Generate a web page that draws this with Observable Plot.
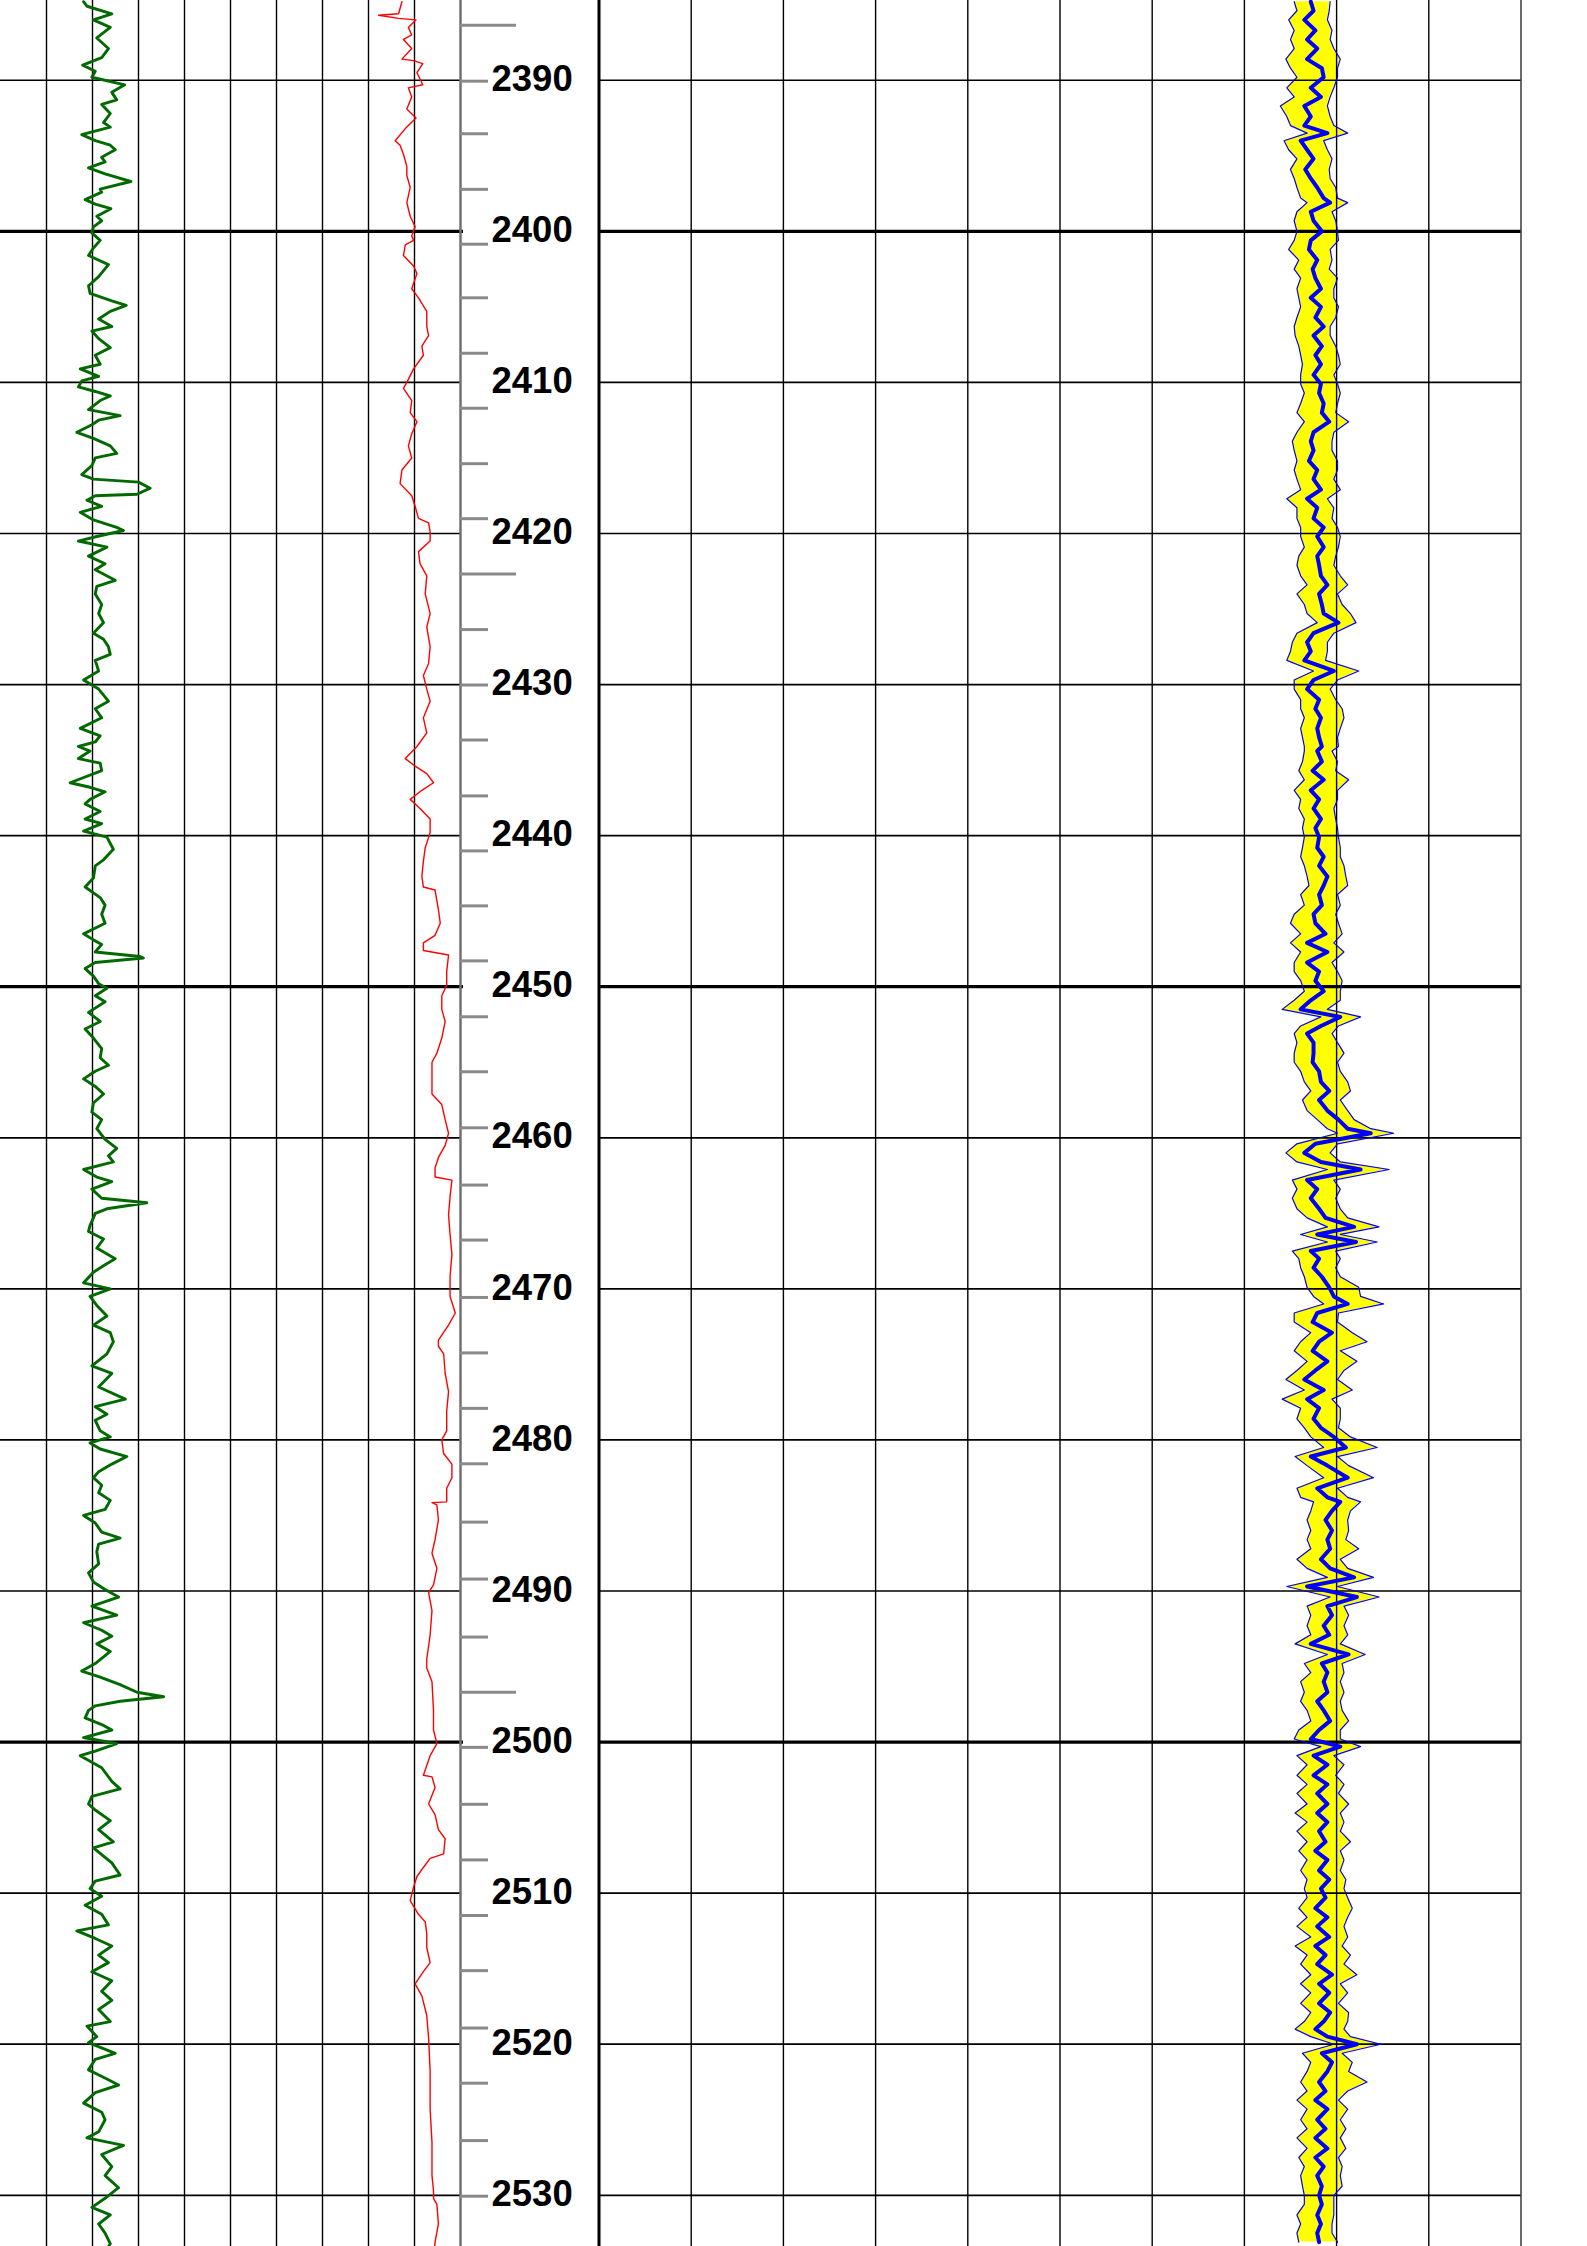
<!DOCTYPE html>
<html><head><meta charset="utf-8">
<script src="https://cdn.jsdelivr.net/npm/d3@7"></script>
<script src="https://cdn.jsdelivr.net/npm/@observablehq/plot@0.6"></script>
<style>
html,body{margin:0;padding:0;background:#fff;}
#chart{position:relative;width:1587px;height:2246px;overflow:hidden;background:#fff;}
#chart > div{position:absolute;top:0;}
#chart svg{max-width:none;}
</style></head><body>
<div id="chart"><div id="t1" style="left:0;width:464px"></div><div id="t2" style="left:458px;width:140px"></div><div id="t3" style="left:594px;width:932px"></div></div>
<script>
// ---- data ----
const depthTop = 2384.72, depthBottom = 2533.39;
const depthLabels = [2390,2400,2410,2420,2430,2440,2450,2460,2470,2480,2490,2500,2510,2520,2530];
const thickDepths = [2400,2450,2500];
const leftGrid = [15,30,45,60,75,90,105,120,135];
const rightGrid = [10,20,30,40,50,60,70,80,90];
const minorTicks = [2390.06,2393.54,2397.22,2400.85,2404.40,2408.07,2411.71,2415.38,2419.02,2426.36,2430.03,2433.67,2437.37,2441.01,2444.65,2448.29,2451.99,2455.63,2459.34,2463.13,2466.77,2470.57,2474.24,2477.91,2481.58,2485.44,2489.21,2493.05,2500.35,2504.12,2507.80,2511.48,2515.13,2518.93,2522.58,2526.38,2530.06];
const majorTicks = [2386.36,2422.69,2496.70];

// green curve [depth, value]
const green = [[2384.8,27.1],[2385.1,28.2],[2385.6,36.3],[2386.0,30.3],[2386.5,35.8],[2387.2,31.4],[2387.9,35.2],[2388.5,33.0],[2389.0,26.8],[2389.4,30.9],[2389.8,29.8],[2390.3,40.5],[2390.8,36.3],[2391.3,37.9],[2391.6,33.0],[2392.2,35.8],[2392.8,33.6],[2393.1,35.8],[2393.6,26.5],[2394.0,30.9],[2394.3,35.8],[2394.6,37.4],[2395.1,33.0],[2395.4,34.1],[2395.8,28.7],[2396.2,34.1],[2396.7,42.5],[2397.2,32.5],[2397.4,33.0],[2397.9,27.6],[2398.2,30.9],[2398.5,36.0],[2399.0,31.4],[2399.3,33.0],[2399.7,30.3],[2400.1,29.8],[2400.6,32.5],[2401.1,30.3],[2401.6,28.7],[2402.2,35.2],[2403.0,32.0],[2403.6,28.7],[2404.1,29.2],[2404.6,36.3],[2404.9,41.0],[2405.3,35.8],[2405.8,32.0],[2406.3,36.3],[2406.6,29.8],[2407.1,32.0],[2407.7,35.8],[2408.2,30.9],[2408.8,32.5],[2409.1,26.0],[2409.6,32.0],[2409.9,26.5],[2410.3,25.4],[2410.6,30.9],[2410.9,35.8],[2411.2,32.5],[2411.8,28.7],[2412.2,39.0],[2412.5,32.0],[2412.8,29.8],[2413.3,24.9],[2413.7,30.3],[2414.2,35.8],[2414.7,37.9],[2415.0,30.9],[2415.5,29.8],[2416.1,26.5],[2416.4,30.3],[2416.6,45.0],[2417.0,48.8],[2417.4,44.5],[2417.5,30.9],[2417.8,28.2],[2418.2,33.0],[2418.6,26.0],[2419.1,30.3],[2419.6,37.9],[2419.8,40.1],[2420.2,31.4],[2420.5,25.4],[2420.9,34.7],[2421.5,28.7],[2422.0,34.1],[2422.4,30.9],[2423.1,37.4],[2423.5,31.4],[2424.0,30.9],[2424.7,33.0],[2425.3,32.0],[2425.9,33.6],[2426.6,30.3],[2427.0,33.6],[2427.5,35.2],[2428.0,35.8],[2428.4,30.9],[2429.1,32.0],[2429.7,27.1],[2430.3,32.0],[2431.1,35.2],[2431.6,30.9],[2432.2,33.0],[2432.9,26.0],[2433.4,32.5],[2433.8,30.9],[2434.1,25.4],
[2434.4,29.2],[2434.9,25.4],[2435.2,32.5],[2435.7,33.0],[2436.5,22.7],[2436.8,29.2],[2437.1,34.1],[2437.6,29.2],[2437.9,27.6],[2438.4,32.5],[2438.9,27.6],[2439.2,33.0],[2439.7,27.1],[2440.1,34.7],[2440.9,36.8],[2441.6,33.6],[2442.0,30.9],[2442.8,30.3],[2443.4,27.6],[2444.1,32.5],[2444.6,34.1],[2445.2,33.0],[2445.8,34.1],[2446.5,27.1],[2446.9,30.3],[2447.2,33.0],[2447.7,30.9],[2448.0,45.5],[2448.1,46.6],[2448.4,30.9],[2448.8,27.6],[2449.3,30.3],[2449.8,32.0],[2450.1,34.7],[2450.6,30.9],[2451.0,34.1],[2451.7,28.7],[2452.3,32.5],[2452.8,27.6],[2453.4,30.3],[2454.1,33.0],[2454.7,32.5],[2455.2,35.2],[2455.6,30.9],[2456.1,27.1],[2456.6,30.9],[2457.1,33.6],[2457.7,30.3],[2458.3,29.8],[2458.8,33.0],[2459.4,31.4],[2460.1,34.1],[2460.7,37.9],[2461.2,35.2],[2461.6,36.8],[2462.1,27.1],[2462.6,31.4],[2462.9,36.3],[2463.4,29.8],[2464.0,33.0],[2464.3,47.7],[2464.7,34.7],[2465.0,30.9],[2465.3,30.3],[2465.8,29.2],[2466.2,28.7],[2466.7,33.6],[2467.3,31.4],[2468.0,37.4],[2468.4,34.1],[2468.9,30.3],[2469.6,27.1],[2470.0,35.8],[2470.5,29.2],[2471.1,31.4],[2471.8,34.7],[2472.4,30.3],[2472.9,35.8],[2473.5,36.8],[2474.3,34.7],[2475.1,29.8],[2475.6,36.3],[2476.5,32.0],[2477.3,40.7],[2477.8,30.9],[2478.3,34.7],[2478.7,30.9],[2479.4,32.5],[2479.8,35.8],[2480.2,29.2],[2480.6,32.5],[2481.1,41.2],[2481.6,36.3],[2482.1,32.0],[2482.5,30.3],[2483.0,33.0],[2483.5,32.0],[2484.0,35.8],
[2484.6,34.1],[2485.0,27.1],[2485.5,30.9],[2486.1,33.0],[2486.5,39.0],[2486.9,32.0],[2487.4,31.4],[2488.2,32.0],[2488.8,28.7],[2489.4,30.3],[2489.9,34.1],[2490.4,38.5],[2491.0,29.8],[2491.6,37.9],[2492.1,27.1],[2492.6,33.0],[2493.0,36.3],[2493.5,31.4],[2494.0,35.8],[2494.8,30.9],[2495.3,26.5],[2495.7,32.5],[2496.2,39.0],[2496.7,44.5],[2497.0,53.2],[2497.3,39.0],[2497.6,30.9],[2497.9,28.7],[2498.4,27.6],[2498.9,33.6],[2499.2,36.3],[2499.7,27.1],[2500.1,37.9],[2500.6,30.9],[2500.9,26.0],[2501.7,33.0],[2502.6,36.3],[2503.1,39.0],[2503.6,29.8],[2504.1,28.7],[2504.5,30.9],[2505.2,35.8],[2505.8,32.0],[2506.6,36.8],[2507.0,30.3],[2508.0,36.3],[2508.8,39.0],[2509.2,30.9],[2509.7,29.2],[2510.2,33.0],[2510.8,27.6],[2511.4,33.0],[2512.1,35.2],[2512.5,24.9],[2513.0,30.9],[2513.5,36.3],[2514.1,32.0],[2514.6,35.2],[2515.2,29.8],[2515.8,36.3],[2516.5,33.0],[2517.1,36.3],[2517.7,32.0],[2518.5,35.8],[2518.8,28.2],[2519.5,31.4],[2519.9,28.7],[2520.6,37.4],[2521.0,30.9],[2521.7,28.7],[2522.3,34.7],[2522.7,38.5],[2523.2,30.9],[2523.9,27.1],[2524.5,33.0],[2525.0,34.1],[2525.8,32.0],[2526.2,28.2],[2526.7,40.1],[2527.3,33.0],[2528.1,36.3],[2528.7,34.1],[2529.5,38.5],[2530.2,34.1],[2530.8,29.8],[2531.3,35.8],[2531.9,32.0],[2532.5,34.1],[2533.2,35.8],[2533.6,34.7]];

// red curve [depth, value]
const red = [[2384.8,130.9],[2385.6,129.8],[2385.7,123.3],[2385.9,129.8],[2386.0,135.5],[2386.5,133.0],[2387.0,134.1],[2387.3,131.4],[2387.9,134.1],[2388.6,130.9],[2388.7,134.7],[2388.9,137.7],[2389.5,135.8],[2390.3,137.7],[2390.5,133.0],[2391.1,134.1],[2391.9,132.5],[2392.5,135.5],[2393.2,132.0],[2394.0,128.7],[2394.3,130.3],[2394.9,131.4],[2395.7,132.5],[2396.3,132.5],[2397.1,133.6],[2398.1,132.5],[2399.0,133.6],[2399.7,135.2],[2400.3,134.1],[2400.6,134.7],[2400.9,132.0],[2401.6,131.4],[2402.3,134.7],[2402.8,135.8],[2403.8,134.1],[2404.4,136.3],[2405.3,139.0],[2406.3,139.0],[2406.9,139.6],[2407.6,137.4],[2408.2,137.9],[2409.1,134.7],[2409.8,133.0],[2410.4,131.4],[2411.2,134.1],[2412.0,133.6],[2412.6,135.8],[2413.4,134.1],[2414.2,133.0],[2415.0,134.1],[2415.8,130.9],[2416.7,130.3],[2417.5,134.1],[2418.2,135.2],[2419.0,136.3],[2419.3,139.6],[2419.9,140.1],[2420.5,140.1],[2421.2,136.3],[2422.0,136.8],[2422.8,139.0],[2424.0,138.5],[2425.3,140.1],[2426.2,139.0],[2427.5,140.1],[2428.6,139.6],[2429.4,137.9],[2430.3,139.0],[2431.1,140.1],[2432.2,137.9],[2433.2,139.0],[2434.1,135.8],
[2434.9,132.0],[2435.4,135.2],[2435.9,139.0],[2436.5,141.2],[2437.0,137.4],[2437.6,133.6],[2438.2,136.8],[2438.9,140.1],[2439.8,140.1],[2440.8,138.5],[2441.7,137.9],[2442.7,137.4],[2443.4,137.9],[2443.6,141.7],[2444.9,142.8],[2445.8,143.4],[2446.6,141.7],[2447.1,137.9],[2447.6,137.9],[2447.9,146.1],[2449.0,145.5],[2449.9,145.5],[2450.6,143.9],[2451.5,143.9],[2452.3,145.0],[2453.4,143.9],[2454.4,142.3],[2455.0,140.7],[2456.3,140.7],[2457.1,140.7],[2457.8,143.9],[2458.8,145.0],[2459.7,146.1],[2460.5,145.0],[2461.3,142.8],[2462.0,141.7],[2462.6,141.7],[2462.8,147.2],[2463.9,146.6],[2465.1,146.1],[2466.4,146.6],[2467.7,147.2],[2469.2,146.6],[2470.5,146.6],[2471.6,148.3],[2472.4,146.1],[2473.4,142.8],[2473.8,142.8],[2474.3,144.5],[2475.6,145.0],[2476.8,146.1],[2478.1,145.5],[2479.4,145.5],[2480.0,143.9],[2480.9,144.5],[2481.6,147.2],[2482.5,147.2],[2483.2,145.5],[2484.1,145.5],[2484.15,140.7],[2484.3,142.3],
[2485.3,142.8],[2486.6,141.7],[2487.5,140.7],[2488.5,142.3],[2489.6,141.2],[2490.1,139.6],[2491.3,140.7],[2492.9,140.1],[2494.5,139.0],[2495.1,139.0],[2496.0,140.7],[2497.9,141.2],[2499.2,141.2],[2500.1,142.3],[2500.9,140.1],[2502.2,137.9],[2502.3,140.7],[2503.0,141.7],[2504.1,139.6],[2504.8,141.7],[2505.8,142.8],[2506.4,145.0],[2507.4,144.5],[2507.7,140.1],[2508.3,137.9],[2508.9,135.8],[2509.6,134.7],[2510.5,133.6],[2511.4,136.3],[2511.9,138.5],[2512.7,139.0],[2513.6,139.0],[2514.6,140.1],[2515.2,137.9],[2516.0,135.2],[2516.8,137.4],[2518.1,139.0],[2519.6,139.6],[2521.8,140.1],[2524.3,140.1],[2526.5,140.7],[2528.7,140.7],[2529.7,141.2],[2530.2,141.2],[2530.6,142.3],[2531.9,142.8],[2533.1,141.7],[2533.6,141.5]];

// blue curve [depth, left edge, centre, right edge]
const blue = [[2384.8,75.4,77.2,79.3],[2385.4,75.7,77.5,79.2],[2386.0,74.8,76.5,79.0],[2386.7,75.4,77.7,79.5],[2387.3,75.0,76.8,79.3],[2387.9,75.4,77.9,79.7],[2388.6,74.5,76.8,80.4],[2389.2,75.0,78.4,80.1],[2389.8,75.7,78.6,80.1],[2390.5,74.6,77.2,79.7],[2391.1,75.4,78.3,79.3],[2391.7,73.9,76.5,79.0],[2392.4,74.6,77.2,79.3],[2393.0,75.0,76.5,79.7],[2393.5,76.8,79.0,81.2],[2394.0,74.3,76.1,78.6],[2394.6,74.8,76.8,79.0],[2395.2,75.7,77.5,79.5],[2395.9,75.0,76.6,79.2],[2396.5,75.4,77.2,79.3],[2397.1,75.7,77.9,79.9],[2397.8,76.1,78.6,80.1],[2398.1,76.8,79.3,81.2],[2398.7,75.7,77.2,79.5],[2399.3,75.4,77.5,79.9],[2400.0,75.7,78.4,80.1],[2400.6,75.4,77.2,80.2],[2401.2,74.8,77.0,79.3],[2401.9,75.9,77.9,79.5],[2402.5,75.4,77.4,79.2],[2403.1,76.1,77.7,80.1],[2403.8,75.7,78.3,79.7],[2404.4,75.9,77.2,79.7],[2405.0,76.1,78.3,80.2],[2405.7,75.7,77.7,79.9],[2406.3,75.4,78.6,79.3],[2406.9,75.5,77.5,79.3],[2407.6,75.9,78.4,79.9],[2408.2,76.1,77.7,80.2],[2408.8,76.3,78.3,80.4],[2409.5,76.1,77.5,79.7],[2410.1,76.1,78.3,80.1],[2410.7,76.5,78.1,80.4],[2411.4,76.1,78.6,80.1],[2412.0,75.7,78.4,79.9],[2412.6,76.5,79.2,81.3],[2413.3,75.7,77.5,79.7],[2413.9,75.2,77.2,79.5],[2414.5,75.4,77.5,79.5],[2415.2,75.7,77.0,80.1],[2415.8,75.4,77.9,80.1],[2416.4,75.7,77.5,79.7],[2417.1,76.1,78.3,80.4],[2417.7,74.6,76.8,79.0],[2418.3,75.7,77.9,79.7],[2419.0,75.7,77.5,79.5],[2419.6,76.1,78.6,80.1],[2420.2,76.1,77.9,80.4],[2420.9,76.5,78.6,80.2],[2421.5,75.9,77.9,79.9],[2422.1,75.7,78.1,79.7],[2422.8,76.1,78.3,80.4],[2423.4,76.8,79.0,81.2],[2424.0,75.7,78.1,80.1],[2424.7,76.5,78.4,80.6],[2425.3,76.8,78.6,81.5],[2425.9,77.9,80.2,82.1],[2426.6,75.7,77.5,79.7],[2427.2,75.2,76.8,79.0],[2427.8,75.0,77.2,79.0],[2428.4,74.6,76.5,78.8],[2429.1,77.5,79.7,82.4],[2429.7,75.4,77.5,80.1],[2430.3,75.4,76.8,79.3],[2431.0,76.1,78.1,79.9],[2431.6,76.1,77.7,80.6],[2432.2,76.5,78.3,80.8],[2432.9,76.1,77.9,80.4],[2433.5,76.3,78.1,80.1],[2434.1,76.5,78.4,80.2],
[2434.4,76.5,77.9,79.5],[2435.1,76.3,78.4,80.1],[2435.7,75.9,77.4,79.9],[2436.3,76.5,78.6,81.3],[2437.0,75.4,77.2,80.1],[2437.6,76.1,78.1,80.1],[2438.2,75.9,77.5,79.7],[2438.9,76.5,78.3,79.9],[2439.5,76.3,77.7,80.1],[2440.1,76.5,78.1,80.2],[2440.8,76.3,77.9,80.4],[2441.4,76.1,78.6,80.4],[2442.0,76.5,78.1,80.8],[2442.7,76.8,79.0,81.0],[2443.3,77.0,78.6,81.2],[2443.9,76.1,78.1,80.1],[2444.6,76.5,78.4,80.4],[2445.2,75.4,77.5,79.9],[2445.8,75.0,77.7,80.2],[2446.5,76.1,78.8,80.6],[2447.1,75.0,76.8,79.7],[2447.7,76.1,79.0,80.8],[2448.4,75.4,76.8,79.5],[2449.0,75.4,78.1,80.1],[2449.6,76.1,77.7,80.6],[2450.3,76.5,78.6,80.4],[2450.9,75.4,77.2,80.4],[2451.5,74.1,76.1,79.0],[2452.0,78.3,80.4,82.6],[2452.6,76.1,78.3,80.2],[2453.1,75.4,76.8,79.5],[2453.7,75.7,77.5,80.1],[2454.4,75.4,77.5,80.8],[2455.0,75.4,77.4,80.1],[2455.6,76.1,78.1,80.4],[2456.3,76.5,78.3,81.2],[2456.9,77.2,79.2,81.5],[2457.5,76.3,78.1,80.4],[2458.2,76.8,79.0,81.2],[2458.8,77.9,80.2,81.9],[2459.4,79.0,81.2,83.7],[2459.7,80.1,83.7,86.2],[2460.4,75.7,77.7,80.1],[2461.0,74.5,76.5,79.3],[2461.6,75.7,78.3,80.4],[2462.1,79.0,82.6,85.7],[2462.8,75.2,76.8,79.7],[2463.4,75.7,77.9,80.4],[2464.0,75.2,77.2,79.9],[2464.7,75.7,78.1,80.4],[2465.3,76.8,78.8,81.2],[2465.9,79.0,81.9,84.6],[2466.4,76.1,77.9,80.4],[2466.9,79.0,82.1,84.4],[2467.5,75.2,77.2,79.9],[2468.0,75.9,78.1,80.4],[2468.6,76.1,77.5,79.9],[2469.2,76.5,78.4,80.4],[2469.9,76.8,79.2,82.4],[2470.5,77.5,79.7,82.6],[2471.0,78.6,81.2,85.1],[2471.6,75.4,77.9,80.2],[2472.2,75.4,77.4,80.1],[2472.9,77.2,79.5,81.7],[2473.5,76.1,78.1,83.3],[2474.1,75.4,77.4,80.4],[2474.8,76.8,79.0,82.2],[2475.4,75.7,77.7,80.8],[2476.0,74.5,76.5,80.1],[2476.7,76.5,78.6,81.7],[2477.3,74.1,76.8,79.5],[2477.9,76.1,78.1,80.4],[2478.6,75.7,77.5,80.4],[2479.2,76.5,78.3,80.2],[2479.8,77.2,79.7,81.5],[2480.5,78.6,81.0,84.4],[2481.1,75.5,77.2,80.1],[2481.7,76.8,79.0,81.3],[2482.5,78.6,81.2,84.0],[2483.2,75.7,77.9,80.1],[2483.8,76.1,79.0,81.2],
[2484.1,77.5,80.4,82.6],[2484.7,77.2,79.5,81.5],[2485.3,76.8,78.8,81.2],[2486.0,77.2,79.5,81.3],[2486.6,76.8,79.0,81.0],[2487.2,77.2,79.3,82.4],[2487.9,75.7,78.3,80.4],[2488.5,76.8,79.3,81.2],[2489.1,79.0,81.9,84.0],[2489.7,74.6,76.8,80.1],[2490.4,79.3,82.2,84.6],[2491.0,76.8,79.0,80.8],[2491.6,77.2,79.5,81.3],[2492.3,76.8,78.6,80.8],[2492.9,77.2,79.2,81.2],[2493.5,75.5,77.2,80.4],[2494.2,79.0,81.3,83.1],[2494.8,76.5,78.4,80.6],[2495.4,77.2,79.0,80.8],[2496.0,76.1,78.6,80.4],[2496.7,76.5,79.0,80.8],[2497.3,76.1,77.9,80.4],[2497.9,76.8,78.6,80.6],[2498.6,77.2,79.3,81.3],[2499.2,75.9,78.1,80.4],[2499.8,75.4,77.2,80.4],[2500.3,78.3,80.4,82.6],[2500.9,75.7,77.5,79.7],[2501.5,76.8,79.0,80.8],[2502.2,75.7,77.5,79.9],[2502.8,76.8,79.0,80.8],[2503.4,75.7,77.9,80.2],[2504.1,76.8,79.0,81.3],[2504.7,75.5,77.9,80.4],[2505.3,76.8,79.0,80.8],[2505.9,75.7,78.1,80.4],[2506.6,76.8,78.8,81.5],[2507.2,75.9,77.7,80.4],[2507.8,76.8,79.0,80.8],[2508.5,76.1,78.1,80.4],[2509.1,76.8,79.2,81.0],[2509.7,76.5,78.3,80.8],[2510.3,76.8,78.8,81.2],[2511.0,75.9,77.7,81.7],[2511.6,76.8,79.0,81.2],[2512.2,75.7,77.9,80.8],[2512.9,77.2,79.2,81.2],[2513.5,75.5,77.7,80.6],[2514.1,76.8,78.8,81.5],[2514.7,76.1,77.9,80.8],[2515.4,77.2,79.5,82.2],[2516.0,76.1,78.1,80.4],[2516.6,77.2,79.2,81.2],[2517.3,76.1,78.1,80.2],[2517.9,77.2,79.3,81.3],[2518.5,76.5,78.6,81.2],[2519.0,75.5,77.7,80.8],[2519.5,77.2,79.0,81.5],[2520.0,79.7,82.2,84.8],[2520.6,76.3,78.4,80.6],[2521.2,77.2,79.5,81.7],[2521.8,76.8,79.0,81.3],[2522.5,76.1,78.1,83.3],[2523.1,76.8,78.8,81.2],[2523.7,75.7,77.7,80.2],[2524.3,76.8,79.0,81.2],[2525.0,76.1,77.9,80.4],[2525.6,76.8,78.8,81.0],[2526.2,75.7,77.7,80.4],[2526.9,76.8,79.0,81.0],[2527.5,75.9,77.7,80.2],[2528.1,76.5,78.6,80.6],[2528.7,76.1,77.9,80.4],[2529.4,76.3,78.4,80.6],[2530.0,76.5,78.1,79.7],[2530.6,76.5,78.4,79.7],[2531.3,75.7,77.9,79.7],[2531.9,76.1,78.3,79.5],[2532.5,75.7,77.9,79.5],[2533.1,75.9,78.1,80.1]];

// ---- drawing ----
const H = 2246;
const thinDepths = depthLabels.filter(d => !thickDepths.includes(d));
const yScale = {domain: [depthTop, depthBottom], range: [0, H], axis: null};
const styleT = {background: "transparent", overflow: "visible", maxWidth: "none"};

const track1 = Plot.plot({
  width: 464, height: H, marginTop: 0, marginBottom: 0, marginLeft: 0, marginRight: 4,
  x: {domain: [0, 150], axis: null}, y: yScale, style: styleT,
  marks: [
    Plot.ruleX(leftGrid, {stroke: "#000", strokeWidth: 1.4}),
    Plot.ruleY(thinDepths, {stroke: "#000", strokeWidth: 1.7}),
    Plot.ruleY(thickDepths, {stroke: "#000", strokeWidth: 3.2, insetRight: -3}),
    Plot.lineX(red, {x: d => d[1], y: d => d[0], stroke: "#ff0000", strokeWidth: 1.4, clip: true}),
    Plot.lineX(green, {x: d => d[1], y: d => d[0], stroke: "#006a00", strokeWidth: 2.9, clip: true})
  ]
});
document.getElementById("t1").appendChild(track1);

const track2 = Plot.plot({
  width: 140, height: H, marginTop: 0, marginBottom: 0, marginLeft: 2, marginRight: 0,
  x: {domain: [0, 1], axis: null}, y: yScale, style: styleT,
  marks: [
    Plot.ruleX([0], {stroke: "#707070", strokeWidth: 2.5}),
    Plot.ruleY(minorTicks, {stroke: "#8a8a8a", strokeWidth: 3, insetRight: 110}),
    Plot.ruleY(majorTicks, {stroke: "#8a8a8a", strokeWidth: 3, insetRight: 82}),
    Plot.text(depthLabels, {y: d => d, text: d => String(d), frameAnchor: "left", dx: 31, dy: -1,
      textAnchor: "start", fontSize: 36.5, fontWeight: "bold", fill: "#000",
      fontFamily: "'Liberation Sans', Arial, sans-serif"})
  ]
});
document.getElementById("t2").appendChild(track2);

const track3 = Plot.plot({
  width: 932, height: H, marginTop: 0, marginBottom: 0, marginLeft: 4.5, marginRight: 5.5,
  x: {domain: [0, 100], axis: null}, y: yScale, style: styleT,
  marks: [
    Plot.areaX(blue, {y: d => d[0], x1: d => d[1], x2: d => d[3], fill: "#ffff00", clip: true}),
    Plot.ruleX(rightGrid, {stroke: "#000", strokeWidth: 1.4}),
    Plot.ruleX([100], {stroke: "#444", strokeWidth: 1.6}),
    Plot.ruleY(thinDepths, {stroke: "#000", strokeWidth: 1.7}),
    Plot.ruleY(thickDepths, {stroke: "#000", strokeWidth: 3.2}),
    Plot.lineX(blue, {x: d => d[1], y: d => d[0], stroke: "#0000ff", strokeWidth: 1.2, clip: true}),
    Plot.lineX(blue, {x: d => d[3], y: d => d[0], stroke: "#0000ff", strokeWidth: 1.2, clip: true}),
    Plot.lineX(blue, {x: d => d[2], y: d => d[0], stroke: "#0000ff", strokeWidth: 4, clip: true}),
    Plot.ruleX([0], {stroke: "#000", strokeWidth: 3})
  ]
});
document.getElementById("t3").appendChild(track3);
</script>
</body></html>
